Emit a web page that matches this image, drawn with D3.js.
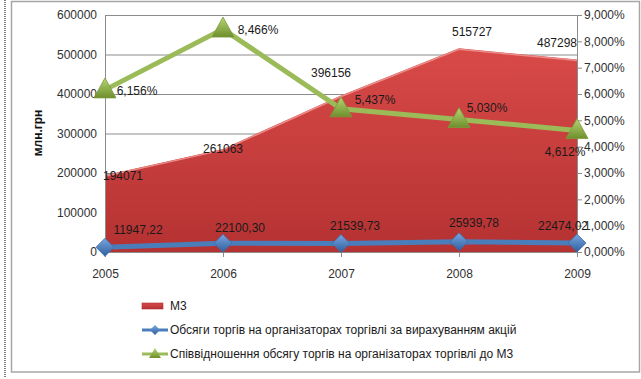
<!DOCTYPE html>
<html>
<head>
<meta charset="utf-8">
<script src="https://cdn.jsdelivr.net/npm/d3@7"></script>
<style>
  body { margin: 0; background: #fff; }
  text { font-family: "Liberation Sans", Arial, sans-serif; }
</style>
</head>
<body>
<div id="content"></div>
<script>
// data
const years = ["2005", "2006", "2007", "2008", "2009"];
const m3 = [194071, 261063, 396156, 515727, 487298];
const m3Labels = ["194071", "261063", "396156", "515727", "487298"];
const volumes = [11947.22, 22100.30, 21539.73, 25939.78, 22474.02];
const volumeLabels = ["11947,22", "22100,30", "21539,73", "25939,78", "22474,02"];
const ratio = [6.156, 8.466, 5.437, 5.030, 4.612];
const ratioLabels = ["6,156%", "8,466%", "5,437%", "5,030%", "4,612%"];
const leftTicks = [0, 100000, 200000, 300000, 400000, 500000, 600000];
const rightTicks = [0, 1, 2, 3, 4, 5, 6, 7, 8, 9];
const seriesNames = ["М3", "Обсяги торгів на організаторах торгівлі за вирахуванням акцій",
  "Співвідношення обсягу торгів на організаторах торгівлі до М3"];

const W = 641, H = 379;
const margin = { left: 105, top: 15, right: 64, bottom: 127 };
const innerW = W - margin.left - margin.right;
const innerH = H - margin.top - margin.bottom;

// label nudges (px) so they sit like in the picture
const m3Off = [[18, 0], [0, 0], [-10, -23], [13, -16], [-20, -17]];
const volOff = [[33, -17], [17, -15], [14, -18], [15, -19], [-14, -17]];
const ratioOff = [[32, 1], [35, 1], [34, -9], [28, -12], [-12, 21]];

const svg = d3.select("#content").append("svg")
  .attr("width", W).attr("height", H);

const defs = svg.append("defs");
const gArea = defs.append("linearGradient").attr("id", "gArea")
  .attr("x1", 0).attr("y1", 0).attr("x2", 0).attr("y2", 1);
gArea.append("stop").attr("offset", "0%").attr("stop-color", "#d84a48");
gArea.append("stop").attr("offset", "100%").attr("stop-color", "#b53232");
const gDia = defs.append("linearGradient").attr("id", "gDia")
  .attr("x1", 0).attr("y1", 0).attr("x2", 0).attr("y2", 1);
gDia.append("stop").attr("offset", "0%").attr("stop-color", "#7aa6e0");
gDia.append("stop").attr("offset", "100%").attr("stop-color", "#2f5f9e");
const gTri = defs.append("linearGradient").attr("id", "gTri")
  .attr("x1", 0).attr("y1", 0).attr("x2", 0).attr("y2", 1);
gTri.append("stop").attr("offset", "0%").attr("stop-color", "#b6d672");
gTri.append("stop").attr("offset", "100%").attr("stop-color", "#6f8f2e");

// frame
svg.append("line").attr("x1", 5).attr("x2", 5).attr("y1", 0).attr("y2", 377)
  .attr("stroke", "#000").attr("stroke-width", 1).attr("stroke-dasharray", "1,1");
svg.append("rect").attr("x", 11.5).attr("y", 1.5).attr("width", 628).attr("height", 370.5)
  .attr("fill", "#fff").attr("stroke", "#a6a6a6").attr("stroke-width", 1.5);

const x = d3.scalePoint().domain(years).range([0, innerW]);
const y = d3.scaleLinear().domain([0, 600000]).range([innerH, 0]);
const y2 = d3.scaleLinear().domain([0, 9]).range([innerH, 0]);

const g = svg.append("g").attr("transform", `translate(${margin.left},${margin.top})`);

// gridlines
g.append("g").selectAll("line").data(leftTicks.slice(1)).join("line")
  .attr("x1", 0).attr("x2", innerW)
  .attr("y1", d => y(d) + 0.5).attr("y2", d => y(d) + 0.5)
  .attr("stroke", "#8c8c8c").attr("stroke-width", 1);

// area
const area = d3.area().x((d, i) => x(years[i])).y0(y(0)).y1(d => y(d));
g.append("path").datum(m3).attr("d", area).attr("fill", "url(#gArea)");
g.append("path").datum(m3)
  .attr("d", d3.line().x((d, i) => x(years[i])).y(d => y(d) + 1))
  .attr("fill", "none").attr("stroke", "#ec8a88").attr("stroke-width", 1.5);

// axes
const fmt = d => d3.format("d")(d);
const axL = g.append("g").call(d3.axisLeft(y).tickValues(leftTicks).tickFormat(fmt).tickSize(0).tickPadding(8));
const axR = g.append("g").attr("transform", `translate(${innerW},0)`)
  .call(d3.axisRight(y2).tickValues(rightTicks).tickFormat(d => d3.format(".3f")(d).replace(".", ",") + "%").tickSize(5).tickPadding(2));
const axB = g.append("g").attr("transform", `translate(0,${innerH})`)
  .call(d3.axisBottom(x).tickSize(5).tickPadding(12));
[axL, axR, axB].forEach(a => {
  a.select(".domain").attr("stroke", "#8c8c8c");
  a.selectAll(".tick line").attr("stroke", "#8c8c8c");
  a.selectAll("text").attr("font-size", 12).attr("fill", "#303030")
    .attr("font-family", "Liberation Sans, Arial, sans-serif");
});
axB.select(".domain").attr("d", `M0,0.5H${innerW}`);

svg.append("text")
  .attr("transform", `translate(42,${margin.top + 118}) rotate(-90)`)
  .attr("text-anchor", "middle").attr("font-size", 12).attr("font-weight", "bold")
  .attr("fill", "#111").text("млн.грн");

// blue line
g.append("path").datum(volumes)
  .attr("d", d3.line().x((d, i) => x(years[i])).y(d => y(d)))
  .attr("fill", "none").attr("stroke", "#4a7ebb").attr("stroke-width", 5);
g.selectAll(".dia").data(volumes).join("path").attr("class", "dia")
  .attr("transform", (d, i) => `translate(${x(years[i])},${y(d)})`)
  .attr("d", "M0,-9L9,0L0,9L-9,0Z")
  .attr("fill", "url(#gDia)").attr("stroke", "#3a6aa8").attr("stroke-width", 0.8);

// green line
g.append("path").datum(ratio)
  .attr("d", d3.line().x((d, i) => x(years[i])).y(d => y2(d)))
  .attr("fill", "none").attr("stroke", "#9bbb59").attr("stroke-width", 5);
g.selectAll(".tri").data(ratio).join("path").attr("class", "tri")
  .attr("transform", (d, i) => `translate(${x(years[i])},${y2(d)})`)
  .attr("d", "M0,-12L11,8L-11,8Z")
  .attr("fill", "url(#gTri)").attr("stroke", "#7a9a3a").attr("stroke-width", 0.8);

// labels
function labels(vals, texts, sc, off) {
  g.append("g").selectAll("text").data(vals).join("text")
    .attr("x", (d, i) => x(years[i]) + off[i][0])
    .attr("y", (d, i) => sc(d) + off[i][1])
    .attr("dy", "0.35em").attr("text-anchor", "middle")
    .attr("font-size", 12).attr("fill", "#1a1a1a")
    .text((d, i) => texts[i]);
}
labels(m3, m3Labels, y, m3Off);
labels(volumes, volumeLabels, y, volOff);
labels(ratio, ratioLabels, y2, ratioOff);

// legend
const lg = svg.append("g").attr("transform", "translate(142,306)");
const rowH = 24;
lg.append("rect").attr("x", 0).attr("y", -3).attr("width", 21).attr("height", 6)
  .attr("fill", "url(#gArea)").attr("stroke", "#a83030").attr("stroke-width", 0.6);
lg.append("line").attr("x1", 0).attr("x2", 26).attr("y1", rowH).attr("y2", rowH)
  .attr("stroke", "#4a7ebb").attr("stroke-width", 3);
lg.append("path").attr("transform", `translate(13,${rowH})`).attr("d", "M0,-5L5,0L0,5L-5,0Z")
  .attr("fill", "url(#gDia)");
lg.append("line").attr("x1", 0).attr("x2", 26).attr("y1", rowH * 2).attr("y2", rowH * 2)
  .attr("stroke", "#9bbb59").attr("stroke-width", 3);
lg.append("path").attr("transform", `translate(13,${rowH * 2})`).attr("d", "M0,-6L6,4L-6,4Z")
  .attr("fill", "url(#gTri)");
lg.selectAll("text").data(seriesNames).join("text")
  .attr("x", 28).attr("y", (d, i) => i * rowH).attr("dy", "0.35em")
  .attr("font-size", 12).attr("fill", "#1a1a1a").text(d => d);
</script>
</body>
</html>
